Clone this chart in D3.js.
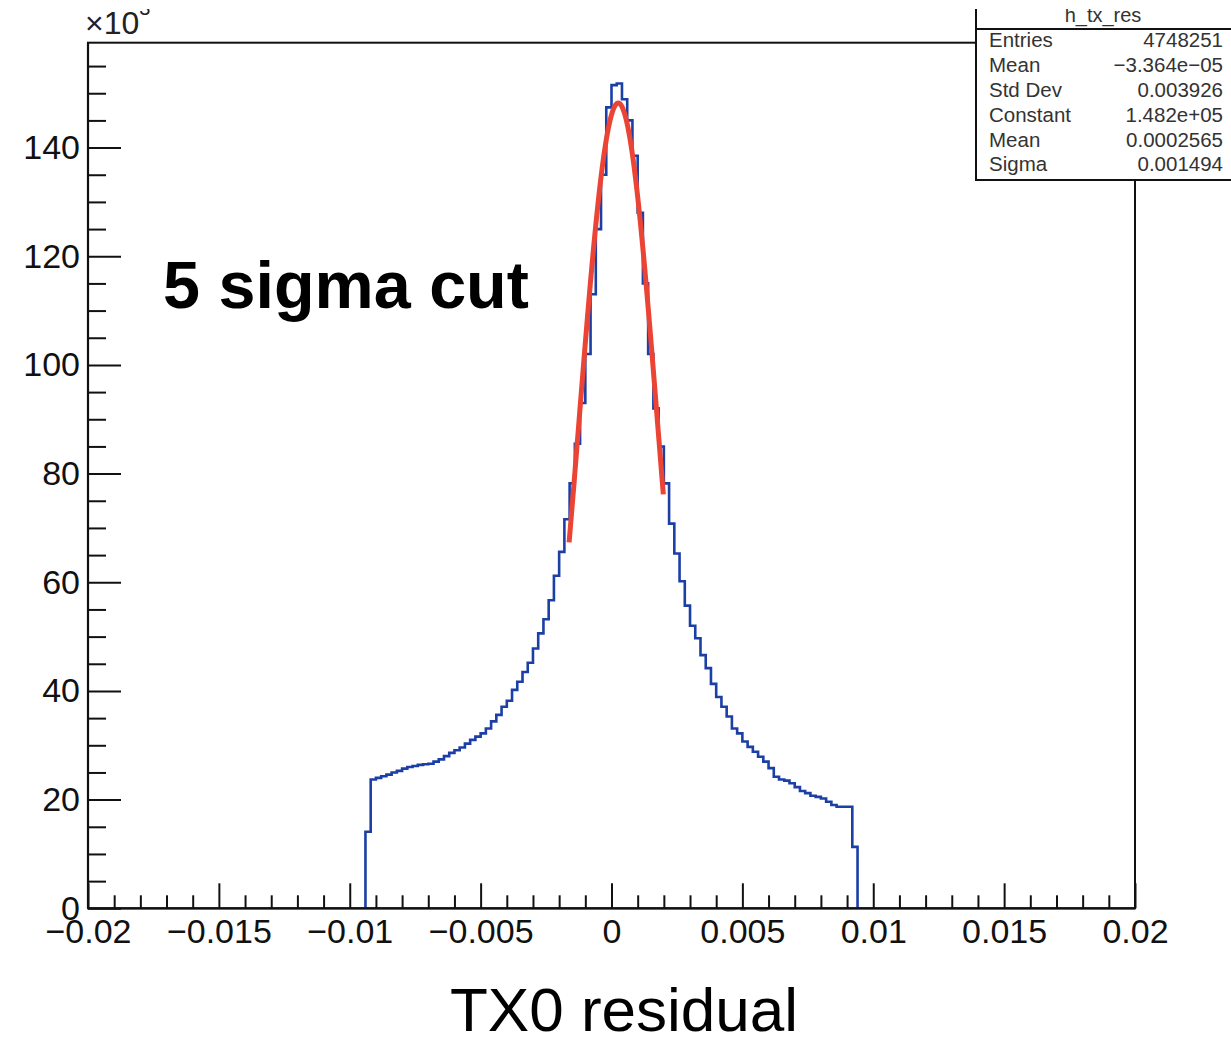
<!DOCTYPE html>
<html>
<head>
<meta charset="utf-8">
<script src="https://cdn.jsdelivr.net/npm/d3@7"></script>
<style>
  html, body { margin: 0; padding: 0; background: #fff; }
  svg { display: block; font-family: "Liberation Sans", Arial, Helvetica, sans-serif; }
</style>
</head>
<body>
<svg id="chart" width="1231" height="1041"></svg>
<script>
// Histogram h_tx_res: TX0 residual, 200 bins over [-0.02, 0.02]; only the
// filled bins are listed (entries per bin, in units of 10^3).
const binStart = -0.0094;
const binWidth = 0.0002;
const binCounts = [
  14.1, 23.7, 24.0, 24.3, 24.6, 25.0, 25.3, 25.7, 26.0, 26.2,
  26.4, 26.5, 26.6, 27.0, 27.4, 28.0, 28.6, 29.1, 29.6, 30.3,
  31.0, 31.6, 32.2, 33.1, 34.4, 35.6, 37.1, 38.2, 40.2, 41.7,
  43.5, 45.2, 47.8, 50.6, 53.2, 56.7, 61.2, 65.6, 71.6, 78.2,
  85.5, 93.0, 102.0, 113.0, 125.0, 135.0, 147.4, 151.5, 151.8, 148.9,
  145.0, 138.5, 128.0, 115.0, 102.0, 92.0, 85.0, 78.2, 70.8, 65.3,
  60.2, 55.7, 52.0, 49.7, 46.6, 44.2, 41.3, 38.9, 37.1, 35.3,
  33.1, 32.2, 30.7, 29.7, 28.8, 27.9, 27.0, 25.8, 24.2, 23.7,
  23.5, 23.0, 22.3, 21.6, 21.2, 20.7, 20.5, 20.2, 19.6, 19.0,
  18.7, 18.7, 18.7, 11.3
];

// Gaussian fit (gaus) results and its range
const fitConstant = 1.482e5;
const fitMean = 0.0002565;
const fitSigma = 0.001494;
const fitRange = [-0.00162, 0.00198];

// Axis ticks
const xTickValues = [-0.02, -0.015, -0.01, -0.005, 0, 0.005, 0.01, 0.015, 0.02];
const xTickLabels = ["\u22120.02", "\u22120.015", "\u22120.01", "\u22120.005", "0", "0.005", "0.01", "0.015", "0.02"];
const yTickValues = [0, 20, 40, 60, 80, 100, 120, 140];
const yTickLabels = ["0", "20", "40", "60", "80", "100", "120", "140"];

// Statistics box
const statsTitle = "h_tx_res";
const statsNames = ["Entries", "Mean", "Std Dev", "Constant", "Mean", "Sigma"];
const statsValues = ["4748251", "\u22123.364e\u221205", "0.003926", "1.482e+05", "0.0002565", "0.001494"];

const xTitle = "TX0 residual";
const note = "5 sigma cut";

// ---------------------------------------------------------------------------
const svg = d3.select("#chart");
const frame = { left: 88, right: 1135, top: 42.7, bottom: 908.3 };
const yMax = 159.3;

const x = d3.scaleLinear().domain([-0.02, 0.02]).range([frame.left, frame.right]);
const y = d3.scaleLinear().domain([0, yMax]).range([frame.bottom, frame.top]);

const histColor = "#1c3fa6";
const fitColor = "#ec4434";
const fontStack = "\"Liberation Sans\", Arial, Helvetica, sans-serif";

// Frame
svg.append("rect")
  .attr("x", frame.left).attr("y", frame.top)
  .attr("width", frame.right - frame.left).attr("height", frame.bottom - frame.top)
  .attr("fill", "none").attr("stroke", "#111").attr("stroke-width", 2);

// Histogram outline (step path)
const pts = [[binStart, 0]];
binCounts.forEach((c, i) => {
  const lo = binStart + i * binWidth;
  pts.push([lo, c], [lo + binWidth, c]);
});
pts.push([binStart + binCounts.length * binWidth, 0]);

svg.append("path")
  .attr("d", d3.line().x(d => x(d[0])).y(d => y(d[1]))(pts))
  .attr("fill", "none").attr("stroke", histColor).attr("stroke-width", 2.6)
  .attr("stroke-linejoin", "miter");

// Gaussian fit curve
const gaus = v => fitConstant * Math.exp(-0.5 * Math.pow((v - fitMean) / fitSigma, 2)) / 1000;
const fitPts = d3.range(0, 201).map(i => {
  const v = fitRange[0] + (fitRange[1] - fitRange[0]) * i / 200;
  return [v, gaus(v)];
});
svg.append("path")
  .attr("d", d3.line().x(d => x(d[0])).y(d => y(d[1]))(fitPts))
  .attr("fill", "none").attr("stroke", fitColor).attr("stroke-width", 5)
  .attr("stroke-linejoin", "round");

// Axes
function styleAxis(g) {
  g.select(".domain").remove();
  g.selectAll(".tick line").attr("stroke", "#111").attr("stroke-width", 2);
  g.selectAll(".tick text").attr("fill", "#111").attr("font-size", 34)
    .attr("font-family", fontStack);
}

const xMinor = d3.range(-20, 21).filter(i => i % 5 !== 0).map(i => i * 0.001);
const yMinor = d3.range(0, 32).filter(i => i % 4 !== 0).map(i => i * 5);

svg.append("g").attr("transform", `translate(0,${frame.bottom})`)
  .call(d3.axisBottom(x).tickValues(xMinor).tickSize(-13).tickFormat(""))
  .call(styleAxis);
svg.append("g").attr("transform", `translate(0,${frame.bottom})`)
  .call(d3.axisBottom(x).tickValues(xTickValues).tickSize(-25).tickPadding(10.5)
    .tickFormat((d, i) => xTickLabels[i]))
  .call(styleAxis);

svg.append("g").attr("transform", `translate(${frame.left},0)`)
  .call(d3.axisLeft(y).tickValues(yMinor).tickSize(-18).tickFormat(""))
  .call(styleAxis);
svg.append("g").attr("transform", `translate(${frame.left},0)`)
  .call(d3.axisLeft(y).tickValues(yTickValues).tickSize(-33).tickPadding(8)
    .tickFormat((d, i) => yTickLabels[i]))
  .call(styleAxis);

// Axis lines on top of ticks
svg.append("line").attr("x1", frame.left).attr("x2", frame.right)
  .attr("y1", frame.bottom).attr("y2", frame.bottom).attr("stroke", "#111").attr("stroke-width", 2.2);
svg.append("line").attr("x1", frame.left).attr("x2", frame.left)
  .attr("y1", frame.top).attr("y2", frame.bottom).attr("stroke", "#111").attr("stroke-width", 2.2);

// Annotation
svg.append("text").attr("x", 163).attr("y", 308)
  .attr("font-size", 66.5).attr("font-weight", "bold").attr("fill", "#000")
  .text(note);

// X-axis title
svg.append("text").attr("x", 624).attr("y", 1031).attr("text-anchor", "middle")
  .attr("font-size", 62).attr("fill", "#000").text(xTitle);

// Statistics box (its top edge lies above the visible canvas)
const box = { x: 976, y: -20, w: 270, h: 200 };
svg.append("rect").attr("x", box.x).attr("y", box.y).attr("width", box.w).attr("height", box.h)
  .attr("fill", "#fff").attr("stroke", "#111").attr("stroke-width", 2);
svg.append("line").attr("x1", box.x).attr("x2", box.x + box.w)
  .attr("y1", 29).attr("y2", 29).attr("stroke", "#111").attr("stroke-width", 2);
svg.append("text").attr("x", 1103).attr("y", 22).attr("text-anchor", "middle")
  .attr("font-size", 20).attr("fill", "#333").text(statsTitle);
const rowY = [47, 71.5, 96.5, 121.5, 147, 171];
statsNames.forEach((n, i) => {
  svg.append("text").attr("x", 989).attr("y", rowY[i])
    .attr("font-size", 20.5).attr("fill", "#333").text(n);
  svg.append("text").attr("x", 1223).attr("y", rowY[i]).attr("text-anchor", "end")
    .attr("font-size", 20.5).attr("fill", "#333").text(statsValues[i]);
});

// Exponent label of the y axis; the page is trimmed just above it
const expo = svg.append("text").attr("x", 85).attr("y", 34)
  .attr("font-size", 32).attr("fill", "#222");
expo.append("tspan").text("\u00d710");
expo.append("tspan").attr("font-size", 20).attr("dy", -19).text("3");

// White top margin strip
svg.append("rect").attr("x", 0).attr("y", 0).attr("width", 1231).attr("height", 9)
  .attr("fill", "#fff");
</script>
</body>
</html>
